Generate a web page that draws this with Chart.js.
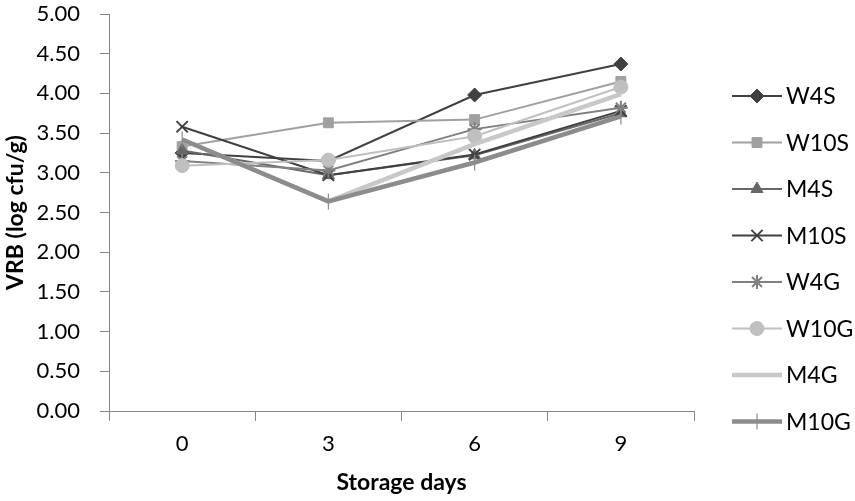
<!DOCTYPE html>
<html>
<head>
<meta charset="utf-8">
<script src="https://cdn.jsdelivr.net/npm/chart.js@4"></script>
<style>
  html, body { margin: 0; padding: 0; background: #fff; }
  #wrap { width: 855px; height: 501px; }
</style>
</head>
<body>
<div id="wrap"><canvas id="c" width="855" height="501"></canvas></div>
<script>
const days = ['0', '3', '6', '9'];
const seriesNames = ['W4S', 'W10S', 'M4S', 'M10S', 'W4G', 'W10G', 'M4G', 'M10G'];
const W4S  = [3.25, 3.15, 3.98, 4.37];
const W10S = [3.33, 3.63, 3.67, 4.15];
const M4S  = [3.28, 2.97, 3.22, 3.75];
const M10S = [3.58, 2.97, 3.23, 3.78];
const W4G  = [3.15, 3.03, 3.55, 3.82];
const W10G = [3.09, 3.16, 3.46, 4.08];
const M4G  = [3.42, 2.64, 3.36, 3.99];
const M10G = [3.42, 2.64, 3.13, 3.71];
const yTicks = [0, 0.5, 1, 1.5, 2, 2.5, 3, 3.5, 4, 4.5, 5];

const FONT = 'Lato, "Open Sans", sans-serif';
const styles = [
  { color: '#404040', width: 2, ps: 'rectRot', r: 7, fill: '#404040', bw: 1 },
  { color: '#a0a0a0', width: 2, ps: 'rect', r: 7, fill: '#a0a0a0', bw: 1 },
  { color: '#686868', width: 2, ps: 'triangle', r: 7, fill: '#686868', bw: 1 },
  { color: '#404040', width: 2, ps: 'crossRot', r: 8, fill: '#404040', bw: 2 },
  { color: '#808080', width: 2, ps: 'star', r: 7, fill: '#808080', bw: 2 },
  { color: '#c0c0c0', width: 2, ps: 'circle', r: 7, fill: '#c0c0c0', bw: 1 },
  { color: '#c8c8c8', width: 4.5, ps: 'circle', r: 0, fill: '#c8c8c8', bw: 0 },
  { color: '#8c8c8c', width: 4.5, ps: 'line', r: 8, fill: '#8c8c8c', bw: 1.2, rot: 90 }
];
const allData = [W4S, W10S, M4S, M10S, W4G, W10G, M4G, M10G];

const datasets = allData.map((d, i) => {
  const s = styles[i];
  return {
    label: seriesNames[i],
    data: d,
    borderColor: s.color,
    backgroundColor: s.fill,
    borderWidth: s.width,
    pointStyle: s.ps,
    pointRadius: s.r,
    pointHoverRadius: s.r,
    pointBorderWidth: s.bw,
    pointBorderColor: s.color,
    pointBackgroundColor: s.fill,
    pointRotation: s.rot || 0,
    tension: 0,
    order: 7 - i
  };
});

const legendPlugin = {
  id: 'customLegend',
  afterDraw(chart) {
    const ctx = chart.ctx;
    ctx.save();
    chart.data.datasets.forEach((ds, i) => {
      const y = 96 + i * 46.5;
      const x0 = 732, x1 = 782, xm = 757;
      ctx.strokeStyle = ds.borderColor;
      ctx.lineWidth = ds.borderWidth;
      ctx.beginPath();
      ctx.moveTo(x0, y);
      ctx.lineTo(x1, y);
      ctx.stroke();
      if (ds.pointRadius > 0) {
        ctx.fillStyle = ds.pointBackgroundColor;
        ctx.strokeStyle = ds.pointBorderColor;
        ctx.lineWidth = ds.pointBorderWidth;
        Chart.helpers.drawPoint(ctx, {
          pointStyle: ds.pointStyle,
          rotation: ds.pointRotation,
          radius: ds.pointRadius,
          borderWidth: ds.pointBorderWidth
        }, xm, y);
      }
      ctx.fillStyle = '#000';
      ctx.font = '23px ' + FONT;
      ctx.textAlign = 'left';
      ctx.textBaseline = 'middle';
      ctx.fillText(ds.label, 786, y + 1);
    });
    ctx.restore();
  }
};

new Chart(document.getElementById('c'), {
  type: 'line',
  data: { labels: days, datasets: datasets },
  options: {
    responsive: false,
    animation: false,
    events: [],
    layout: { padding: { left: 0, right: 161, top: 14, bottom: 0 } },
    plugins: { legend: { display: false }, tooltip: { enabled: false } },
    scales: {
      x: {
        type: 'category',
        offset: true,
        grid: { display: true, drawOnChartArea: false, offset: true, tickLength: 10, color: '#868686', lineWidth: 1 },
        border: { display: true, color: '#868686', width: 1 },
        ticks: { color: '#000', font: { family: FONT, size: 22 }, padding: 10, maxRotation: 0 },
        title: { display: true, text: 'Storage days', color: '#000', font: { family: FONT, size: 23, weight: 'bold' }, padding: { top: 0, bottom: 5 } },
        afterFit(scale) { scale.height = 90; scale.paddingLeft = 0; scale.paddingRight = 0; }
      },
      y: {
        min: 0, max: 5,
        afterBuildTicks(scale) { scale.ticks = yTicks.map(v => ({ value: v })); },
        grid: { display: true, drawOnChartArea: false, tickLength: 9, color: '#868686', lineWidth: 1 },
        border: { display: true, color: '#868686', width: 1 },
        ticks: { color: '#000', font: { family: FONT, size: 22 }, padding: 20, callback: v => Number(v).toFixed(2) },
        title: { display: true, text: 'VRB (log cfu/g)', color: '#000', font: { family: FONT, size: 23, weight: 'bold' }, padding: { top: 2, bottom: 0 } },
        afterFit(scale) { scale.width = 109; scale.paddingTop = 0; scale.paddingBottom = 0; }
      }
    }
  },
  plugins: [legendPlugin]
});
</script>
</body>
</html>
